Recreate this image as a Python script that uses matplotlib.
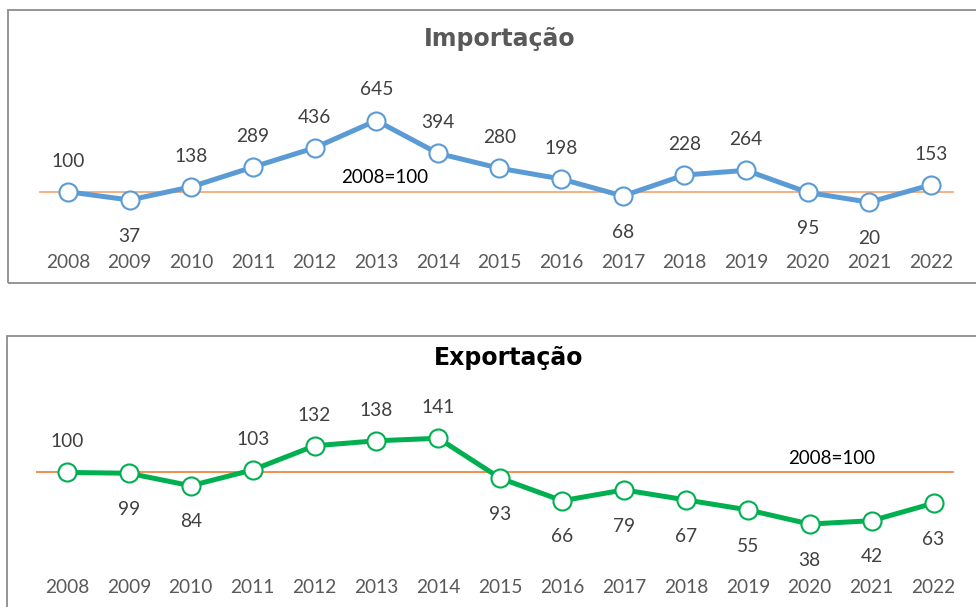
import matplotlib.pyplot as plt
from matplotlib.patches import Rectangle

# Data
years = ['2008', '2009', '2010', '2011', '2012', '2013', '2014', '2015',
         '2016', '2017', '2018', '2019', '2020', '2021', '2022']
importacao = [100, 37, 138, 289, 436, 645, 394, 280, 198, 68, 228, 264, 95, 20, 153]
exportacao = [100, 99, 84, 103, 132, 138, 141, 93, 66, 79, 67, 55, 38, 42, 63]
base_value = 100
base_label = '2008=100'

# labels drawn under the point (index of year)
imp_below = [1, 9, 12, 13]
exp_below = [1, 2, 7, 8, 9, 10, 11, 12, 13, 14]

plt.rcParams['font.family'] = ['Lato', 'DejaVu Sans']

W, H = 976, 607
fig = plt.figure(figsize=(W / 100, H / 100), dpi=100)


def px_axes(x0, y0, x1, y1):
    # pixel box (top-left origin) -> figure fraction axes
    return fig.add_axes([x0 / W, 1 - y1 / H, (x1 - x0) / W, (y1 - y0) / H])


def panel_box(x0, y0, x1, y1):
    fig.add_artist(Rectangle((x0 / W, 1 - y1 / H), (x1 - x0) / W, (y1 - y0) / H,
                             transform=fig.transFigure, fill=False,
                             edgecolor='#8c8c8c', linewidth=1.3))


def draw_panel(ax, values, below, color, ylim, title, title_color, tx, ty, base_x, hl, base_color):
    x = list(range(len(years)))
    ax.axhline(base_value, xmin=hl[0], xmax=hl[1], color=base_color, linewidth=1.2, zorder=1)
    ax.plot(x, values, color=color, linewidth=3.6, marker='o', markersize=13,
            markerfacecolor='white', markeredgecolor=color, markeredgewidth=1.5, zorder=3)
    for i, v in enumerate(values):
        off = -26 if i in below else 22
        ax.annotate(str(v), (i, v), xytext=(0, off), textcoords='offset points',
                    ha='center', va='center', fontsize=13.8, color='#404040')
    ax.annotate(base_label, (base_x, base_value), xytext=(0, 10), textcoords='offset points',
                ha='center', va='center', fontsize=13.5, color='black')
    ax.set_xlim(-0.5, len(years) - 0.5)
    ax.set_ylim(*ylim)
    ax.set_xticks(x)
    ax.set_xticklabels(years, fontsize=13.8, color='#595959')
    ax.tick_params(axis='x', length=0, pad=0)
    ax.set_yticks([])
    for s in ax.spines.values():
        s.set_visible(False)
    ax.patch.set_alpha(0)
    fig.text(tx / W, 1 - ty / H, title, ha='center', va='center', fontsize=17,
             fontweight='bold', color=title_color, family='DejaVu Sans')


# Top panel: Importacao
panel_box(8, 10, 990, 283)
ax1 = px_axes(37.2, 60, 961.8, 254)
draw_panel(ax1, importacao, imp_below, '#5B9BD5', (-376, 1108), 'Importação', '#595959',
           500, 39, 5.14, (0.003, 0.990), '#F4A36C')

# Bottom panel: Exportacao
panel_box(7, 336, 990, 620)
ax2 = px_axes(36.0, 380, 964.5, 579)
draw_panel(ax2, exportacao, exp_below, '#00B050', (-28, 211), 'Exportação', 'black',
           509, 358, 12.36, (0.0, 0.988), '#ED7D31')

fig.savefig('out.png', dpi=100)
